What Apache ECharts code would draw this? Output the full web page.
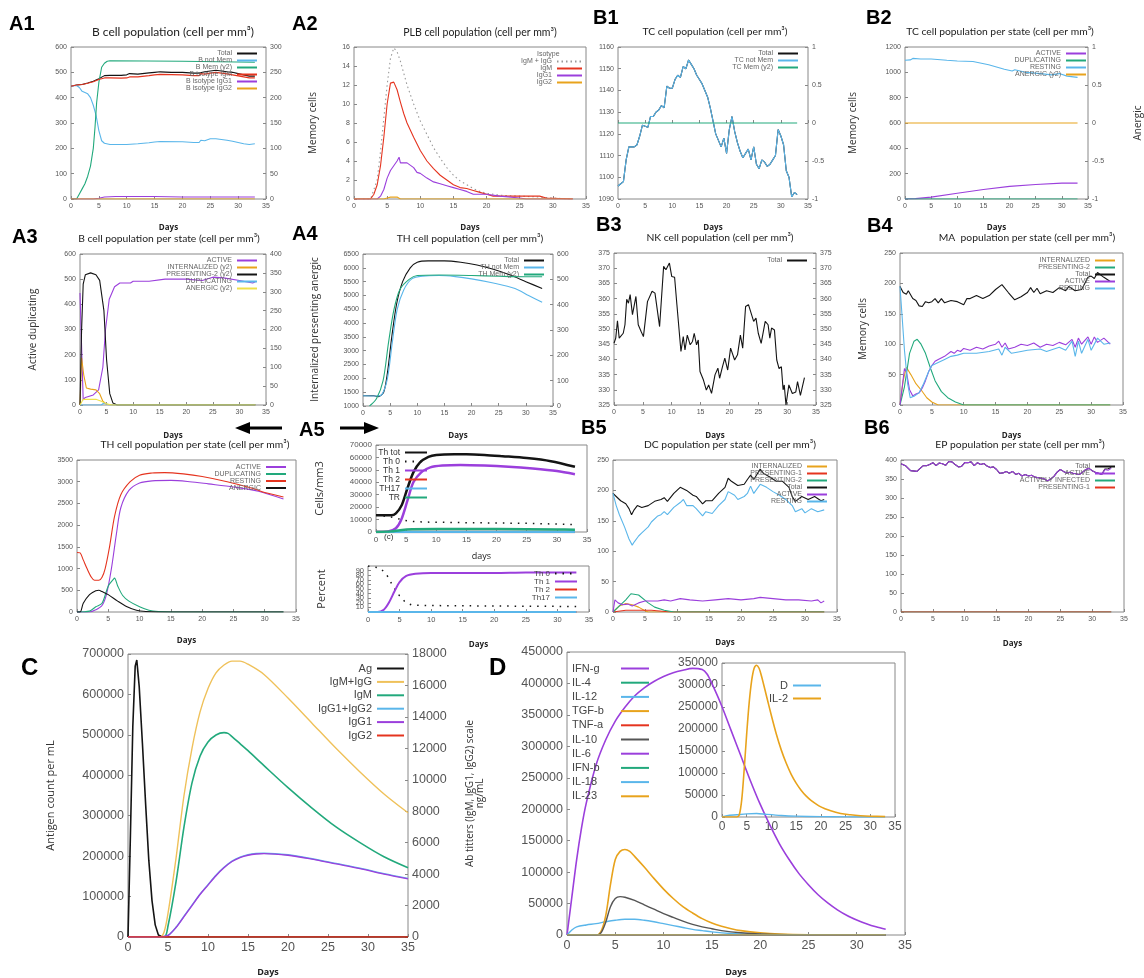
<!DOCTYPE html>
<html>
<head>
<meta charset="utf-8">
<script src="https://cdn.jsdelivr.net/npm/echarts@6/dist/echarts.min.js"></script>
<style>
  html, body { margin: 0; background: #fff; }
  #main { width: 1144px; height: 978px; }
</style>
</head>
<body>
<div id="main"></div>
<script>
// ---- data (day, value) ----
// A1 B cell population
var a1Total = [[0,445],[1,450],[2,452],[3,458],[4,465],[5,475],[6,487],[7,488],[9,488],[10,490],[10.5,495],[12,493],[14,498],[15,500],[16,502],[18,500],[20,500],[22,497],[23,497],[23.3,503],[24,502],[25,505],[26,508],[27,505],[28,502],[29,500],[30,495],[31,490],[32,485],[33,485]];
var a1NotMem = [[0,445],[1,448],[1.5,440],[2,425],[3,415],[3.5,400],[4,370],[4.5,330],[5,270],[5.5,230],[6,220],[7,215],[10,215],[10.3,220],[12,218],[14,222],[15,225],[16,227],[20,226],[22,223],[23,223],[23.3,232],[24,230],[25,238],[26,238],[27,235],[28,232],[29,228],[30,223],[31,218],[32,215],[33,218]];
var a1Mem = [[0,0],[1,0],[1.2,2],[1.5,10],[2,20],[2.5,30],[3,45],[3.5,65],[4,100],[4.3,140],[4.6,190],[5,230],[5.5,260],[6,268],[6.5,272],[7,273],[20,272],[33,270]];
var a1IgM = [[0,445],[1,450],[2,452],[3,457],[4,463],[5,472],[6,478],[7,478],[9,477],[10,478],[10.5,482],[12,482],[14,487],[15,490],[16,492],[20,490],[22,487],[23,487],[23.3,495],[24,493],[25,497],[26,500],[27,497],[28,494],[29,490],[30,486],[31,482],[32,478],[33,478]];
var a1IgG1 = [[0,0],[4,0],[5,3],[6,8],[8,10],[15,10],[20,8],[33,8]];
var a1IgG2 = [[0,0],[33,0]];
// A2 PLB cell population
var a2IgMG = [[0,0],[2.5,0],[3.5,2],[4,5],[4.5,8.5],[5,12],[5.5,14.8],[6,15.9],[6.5,15.5],[7,14.5],[8,12],[9,10],[10,8.2],[11,6.8],[12,5.4],[13,4.3],[14,3.3],[15,2.5],[16,1.9],[17,1.5],[18,1.1],[19,0.8],[20,0.6],[22,0.4],[25,0.3],[28,0.2],[30,0.1],[33,0]];
var a2IgM = [[0,0],[2.5,0],[3,0.5],[3.5,1.5],[4,3.5],[4.5,6.5],[5,10],[5.5,12.2],[6,12.3],[6.5,11.5],[7,10.2],[7.5,9],[8,8],[9,6.5],[10,5.1],[11,4],[12,3.2],[13,2.5],[14,2],[15,1.5],[16,1.2],[17,1.1],[18,0.9],[19,0.7],[20,0.5],[21,0.3],[28,0.3],[29,0.1],[33,0]];
var a2IgG1 = [[0,0],[3.5,0],[4,0.3],[4.5,1],[5,2.2],[5.5,3],[6,3.5],[6.5,4],[6.8,4.4],[7,3.8],[8,3.8],[9,3.3],[9.5,2.8],[10,2.7],[11,2.2],[12,1.8],[13,1.6],[14,1.4],[15,1.2],[16,1],[17,0.8],[18,0.5],[20,0.5],[22,0.3],[25,0.1],[26,0],[33,0]];
var a2IgG2 = [[0,0],[4.5,0],[5,0.1],[5.5,0.2],[6.5,0.2],[7,0],[33,0]];
// B1 TC cell population
var b1NotMem = [[0,1096],[0.5,1097],[1,1098],[1.5,1108],[2,1114],[3,1114],[3.5,1115],[4,1119],[4.5,1124],[5.5,1123],[6,1128],[6.5,1128],[7,1130],[7.5,1131],[8,1133],[8.5,1132],[9,1142],[9.5,1141],[10,1141],[10.5,1145],[11,1147],[11.5,1146],[12,1151],[12.5,1150],[13,1154],[13.5,1152],[14,1150],[14.5,1147],[15,1145],[15.5,1143],[16,1140],[16.5,1137],[17,1132],[17.5,1126],[18,1120],[18.5,1117],[19,1114],[19.5,1118],[20,1111],[20.5,1122],[21,1128],[21.5,1121],[22,1116],[22.5,1112],[23,1109],[23.5,1111],[24,1113],[24.5,1108],[25,1114],[25.5,1106],[26,1104],[26.5,1108],[27,1107],[27.5,1105],[28,1106],[28.5,1108],[29,1110],[29.5,1122],[30,1119],[30.5,1115],[31,1103],[31.5,1100],[32,1091],[32.5,1093],[33,1092]];
var b1Mem = [[0,0],[33,0]];
// B2 TC cell population per state
var b2Resting = [[0,1095],[1,1098],[1.5,1110],[3,1105],[5,1105],[8,1095],[10,1090],[13,1085],[16,1060],[19,1025],[20.5,1010],[21,1020],[23,1000],[26,990],[28,980],[29.5,990],[31,970],[33,960]];
var b2Active = [[0,0],[2,3],[5,15],[10,45],[15,75],[20,100],[25,115],[30,125],[33,125]];
var b2Dup = [[0,0],[33,0]];
var b2Anergic = [[0,0],[33,0]];
// A3 B cell population per state
var a3Active = [[0,445],[0.3,445],[0.6,20],[1,30],[2.5,40],[3.5,60],[4.3,150],[4.8,300],[5.5,420],[6.5,470],[7.5,485],[9.5,485],[10,492],[13,492],[16,500],[20,500],[23,495],[25,508],[27,505],[30,495],[32.5,485],[33,490]];
var a3Intern = [[0,0],[0.3,125],[0.7,80],[1.2,45],[2,42],[3,40],[3.7,30],[4.3,10],[5,2],[6,0],[33,0]];
var a3Present = [[0,0],[0.3,200],[0.6,320],[1,345],[2,350],[3,345],[3.7,330],[4.5,250],[5,120],[5.6,30],[6.2,5],[7,0],[33,0]];
var a3Dup = [[0,0],[4,0],[4.5,8],[5.5,0],[33,0]];
var a3Anergic = [[0,0],[0.6,15],[3,15],[4,10],[5,3],[6,0],[33,0]];
// A4 TH cell population
var a4Total = [[0,1370],[2,1370],[2.8,1340],[3.8,1500],[4.5,2200],[5.3,3500],[6.2,4700],[7.3,5500],[8.7,6000],[10,6200],[12,6250],[15,6250],[18,6200],[21,6100],[24,5950],[27,5750],[30,5500],[33,5250]];
var a4NotMem = [[0,1370],[2.5,1360],[3.5,1420],[4.5,2000],[5.4,3300],[6.3,4500],[7.5,5200],[9,5600],[11,5700],[14,5720],[17,5680],[20,5600],[24,5450],[28,5250],[30.5,5000],[33,4750]];
var a4Mem = [[1.2,0],[2.5,30],[3.7,100],[4.7,250],[5.7,380],[6.8,460],[8.5,500],[10,515],[14,517],[20,515],[25,512],[30,510],[33,510]];
// B3 NK cell population
var b3Total = [[0,345.3],[0.3,347],[0.6,352.7],[0.9,347],[1.6,348.6],[1.9,351.4],[2.2,359.8],[2.5,358.5],[2.8,361.3],[3.2,354.7],[3.8,360.7],[4.2,351.4],[4.7,349.2],[5.1,347.5],[5.8,359],[6.6,362.4],[7.1,361.8],[7.9,350.8],[8.6,370.6],[9,369.5],[9.6,371.7],[10,367.3],[10.5,367],[10.9,358],[11.6,342.6],[12,347.5],[12.3,343.1],[12.7,348],[13.2,344.8],[13.6,345.9],[13.9,348.6],[14.3,344.8],[14.6,346.4],[14.9,336],[15.5,333.2],[16,329.9],[16.4,331.6],[16.9,328.8],[17.5,334.9],[18,337.1],[18.3,333.8],[18.8,337.6],[19.2,340.4],[19.7,336.5],[20.2,343.7],[20.9,339.8],[21.4,341.5],[21.9,348],[22.3,343.7],[22.8,357.4],[23.3,358],[24.2,352.5],[24.6,353.6],[25,348.6],[25.5,345.3],[26.2,352.5],[26.7,351.4],[27,347],[27.3,350.3],[27.8,349.7],[28.2,339.8],[28.6,337],[29,337.6],[29.3,330],[29.5,331.6],[29.8,325],[30.3,331.6],[30.9,328.8],[31.5,329.3],[31.8,332.7],[32.3,328.2],[33,334]];
// B4 MA population per state
var b4Intern = [[0,0],[0.5,40],[1,62],[1.7,50],[2.5,35],[3.3,25],[4.2,12],[5,5],[6,0],[33,0]];
var b4Present = [[0,0],[0.7,30],[1.5,85],[2.2,105],[2.7,108],[3.3,100],[4,85],[4.8,60],[5.5,40],[6.5,22],[7.5,12],[8.7,5],[10,0],[33,0]];
var b4Total = [[0,195],[0.5,185],[1,182],[1.3,188],[2,175],[2.5,172],[3,163],[3.5,162],[4,170],[4.5,168],[5,170],[5.5,175],[6,168],[6.5,175],[7,168],[8,172],[9,170],[10,165],[10.5,175],[11,175],[12,180],[13,175],[14,180],[15,190],[16,198],[17,185],[18,173],[19,178],[20,185],[20.5,193],[21,185],[21.5,192],[22,183],[23,188],[24,185],[25,193],[26,188],[26.5,195],[27.5,188],[28.5,190],[29,200],[29.5,210],[30,212],[30.5,208],[31,218],[32,210],[33,203]];
var b4Active = [[0,0],[0.7,60],[1,55],[1.5,25],[2,15],[2.5,18],[3,20],[3.5,28],[4,40],[4.5,55],[5,65],[5.5,72],[6,75],[7,80],[8,88],[8.5,85],[9,90],[9.5,88],[10,93],[11,90],[12,95],[13,92],[14,97],[15,100],[15.5,105],[16,95],[16.5,102],[17,92],[18,95],[19,100],[20,98],[21,102],[22,95],[23,100],[24,98],[25,103],[26,99],[27,108],[27.5,95],[28,110],[28.5,100],[29.5,112],[30,100],[30.5,112],[31,103],[32,110],[33,100]];
var b4Resting = [[0,195],[0.3,150],[0.7,90],[1.2,35],[1.6,12],[2.3,15],[3,20],[3.7,35],[4.5,55],[5,65],[6,70],[7,75],[8,80],[9,82],[10,85],[12,85],[14,88],[15.5,92],[16,82],[16.5,95],[17.5,85],[19,88],[20,90],[22,92],[23,88],[25,95],[26,90],[27,105],[27.5,80],[28,105],[28.5,85],[29.5,108],[30,90],[31,110],[32,100],[33,102]];
// TH cell population per state
var thActive = [[0,0],[2,0],[3,50],[4,150],[4.7,400],[5.5,1000],[6.3,1800],[7,2400],[8.3,2800],[10,2970],[12,3020],[15,3030],[18,3000],[21,2950],[25,2880],[29,2780],[33,2600]];
var thDup = [[0,0],[2,20],[3,120],[4,200],[5,600],[5.8,750],[6,780],[6.5,600],[7.3,380],[8.3,250],[10,120],[11.5,40],[13,10],[15,0],[33,0]];
var thResting = [[0,1370],[0.5,1360],[1,1200],[1.6,1000],[2.3,800],[2.8,730],[3.5,730],[4,800],[4.5,1000],[5.2,1500],[6,2200],[7,2700],[8.5,3000],[10,3150],[12,3200],[14,3210],[17,3180],[20,3120],[24,3000],[28,2850],[30,2750],[33,2650]];
var thAnergic = [[0,0],[0.5,0],[1,200],[2,400],[3,490],[3.5,500],[4,470],[5,400],[6.5,250],[8,120],[9.5,40],[11,10],[13,0],[33,0]];
// A5 Th subsets
var a5Tot = [[0,13500],[2.5,13500],[3.3,15000],[4.3,22000],[5.2,35000],[6.2,48000],[7.3,56000],[8.7,60500],[10,62000],[13,62500],[15,62500],[18,62000],[21,61000],[25,59500],[29,57000],[33,52500]];
var a5Th0 = [[0,13500],[2,12500],[3.5,11000],[4.5,9500],[6,8500],[8,8000],[15,7500],[25,7000],[33,6000]];
var a5Th1 = [[0,0],[2,500],[3.3,3000],[4.2,10000],[5.2,25000],[6.2,40000],[7.5,48000],[9,52000],[11,53500],[14,54000],[18,53500],[22,52500],[26,51000],[30,49000],[33,46500]];
var a5Th2 = [[0,0],[33,0]];
var a5Th17 = [[0,0],[33,0]];
var a5TR = [[0,0],[2.5,500],[4,1500],[6,2200],[10,2500],[20,2400],[30,2000],[33,1800]];
var a5PctTh0 = [[0,100],[2,95],[3,80],[4,55],[5,35],[6,20],[7,15],[10,14],[20,13],[33,12]];
var a5PctTh1 = [[0,0],[1.5,0],[2.5,5],[3.3,20],[4.2,45],[5,65],[6,78],[7.5,83],[10,85],[20,85],[25,86],[33,86]];
var a5PctTh2 = [[0,0],[33,0]];
var a5PctTh17 = [[0,0],[33,0]];
// B5 DC population per state
var b5Intern = [[0,0],[1,10],[2,14],[3,12],[4,8],[5,2],[5.5,0],[33,0]];
var b5Pres1 = [[0,0],[2,3],[6,3],[9,0],[33,0]];
var b5Pres2 = [[0,0],[1,10],[2,20],[2.8,30],[4,28],[5.5,15],[6.5,8],[8,3],[9.5,0],[33,0]];
var b5Total = [[0,195],[0.5,190],[1.2,183],[2,178],[2.5,170],[2.9,160],[3.3,168],[3.8,175],[4.5,172],[5.5,175],[6.5,182],[7.5,185],[8,188],[8.5,182],[9.5,195],[10.5,205],[11.5,200],[12.5,192],[13,190],[14,178],[14.5,183],[15.5,183],[16.5,195],[17.5,205],[18,220],[18.5,215],[19.5,208],[20.5,210],[21,218],[21.5,225],[22,218],[23,235],[23.5,228],[24.5,222],[25.5,215],[26.5,215],[27.5,205],[28,190],[28.5,182],[29.5,190],[30.5,185],[31.5,190],[32.5,183],[33,185]];
var b5Active = [[0,0],[0.3,20],[0.8,15],[1.5,12],[2.3,13],[3,10],[4,15],[5,18],[7,18],[8,20],[9,18],[10.5,22],[12,20],[14,18],[16,20],[18,22],[20,20],[22,22],[23,24],[25,22],[27,20],[29,20],[31,18],[32,20],[32.5,15],[33,18]];
var b5Resting = [[0,195],[0.5,175],[1,160],[1.8,140],[2.5,120],[3,110],[3.3,115],[4,125],[4.5,130],[5.5,140],[6,148],[7,158],[7.5,160],[8,165],[8.5,160],[9.5,172],[10.5,180],[11,185],[11.5,175],[12.5,175],[13,170],[14,158],[14.5,165],[15.5,162],[16.5,175],[17.5,185],[18,198],[19,192],[19.5,185],[20.5,190],[21,195],[21.5,207],[22,195],[23,210],[24,205],[25,198],[26,192],[27,185],[28,175],[28.5,165],[29.5,170],[30,163],[31,170],[32,165],[33,168]];
// B6 EP population per state
var b6Active = [[0,390],[0.7,385],[1,380],[1.5,372],[2.5,370],[3,378],[3.5,385],[4,385],[4.5,388],[5,393],[5.5,385],[6,392],[6.5,390],[7,386],[7.5,396],[8,395],[8.5,388],[9,382],[9.5,383],[10,393],[10.5,393],[11,395],[11.5,385],[12,393],[12.5,388],[13,391],[13.5,384],[14,380],[14.5,382],[15,375],[15.5,365],[16,366],[16.5,370],[17,365],[17.5,370],[18,362],[18.5,365],[19,358],[19.5,362],[20,358],[20.5,360],[21,355],[22,352],[22.5,350],[23,345],[23.5,350],[24,357],[24.5,368],[25,375],[25.5,370],[26,366],[26.5,368],[27,365],[28,362],[28.5,368],[29,375],[29.5,378],[30,372],[30.5,368],[31,365],[31.5,362],[32,375],[32.5,373],[33,378]];
var b6Total = b6Active.slice(0, -3).concat([[32,376],[32.5,377],[33,380]]);
var b6Infected = [[0,0],[33,0]];
var b6Pres1 = [[0,0],[33,0]];
// C antigen and antibodies
var cAg = [[0,0],[0.3,250000],[0.6,520000],[0.9,670000],[1.1,685000],[1.4,620000],[1.8,480000],[2.2,330000],[2.6,190000],[3,90000],[3.4,30000],[3.8,5000],[4.3,0],[35,0]];
var cIgMG = [[0,0],[4,0],[4.5,300],[5,1500],[6,5000],[7,9000],[8,12000],[9,14300],[10,15800],[11,16800],[12,17300],[13,17550],[14,17550],[15,17350],[17,16700],[20,15200],[23,13600],[26,12000],[29,10500],[32,9100],[35,7900]];
var cIgM = [[0,0],[4.5,0],[5,700],[6,3500],[7,7000],[8,9800],[9,11500],[10,12400],[11,12850],[12,13000],[12.5,12950],[13,12750],[14,12300],[15,11850],[17,10900],[20,9500],[23,8200],[26,7000],[29,6000],[32,5100],[35,4400]];
var cIgG12 = [[0,0],[4,0],[5,100],[6,620],[7,1330],[8,2030],[9,2730],[10,3330],[11,3930],[12,4430],[13,4830],[14,5080],[15,5230],[16,5310],[17,5330],[20,5230],[23,4980],[26,4680],[29,4380],[32,4030],[35,3730]];
var cIgG1 = [[0,0],[4,0],[5,100],[6,600],[7,1300],[8,2000],[9,2700],[10,3300],[11,3900],[12,4400],[13,4800],[14,5050],[15,5200],[16,5280],[17,5300],[20,5200],[23,4950],[26,4650],[29,4350],[32,4000],[35,3700]];
var cIgG2 = [[0,0],[35,0]];
// D cytokines
var dIFNg = [[0,0],[0.5,60000],[1,120000],[1.5,170000],[2,210000],[3,270000],[4,310000],[5,340000],[6,362000],[7,380000],[8,393000],[9,403000],[10,411000],[11,417000],[12,421000],[13,424000],[14,422000],[14.5,415000],[15,400000],[16,365000],[17,325000],[18,285000],[19,245000],[20,208000],[21,175000],[22,145000],[23,120000],[24,98000],[25,80000],[26,64000],[27,51000],[28,40000],[29,31000],[30,24000],[31,18000],[32,13000],[33,9000]];
var dIL4 = [[0,0],[33,0]];
var dIL12 = [[0,0],[0.5,8000],[1,13000],[2,16000],[3,18000],[4,21000],[5,23500],[6,25000],[7,25000],[8,23500],[9,21000],[10,18000],[11,15000],[12,12000],[13,9000],[14,7000],[15,5000],[17,2500],[19,1200],[22,400],[33,0]];
var dTGFb = [[0,0],[3,0],[3.5,5000],[4,30000],[4.5,80000],[5,120000],[5.5,133000],[6,136000],[6.5,133000],[7,125000],[8,108000],[9,90000],[10,73000],[11,58000],[12,45000],[13,35000],[14,26000],[15,19000],[16,14000],[17,10000],[18,7000],[20,3500],[22,1500],[25,500],[33,0]];
var dTNFa = [[0,0],[33,0]];
var dIL10 = [[0,0],[3,0],[3.5,3000],[4,20000],[4.5,45000],[5,58000],[5.5,61000],[6,60000],[7,55000],[8,48000],[9,41000],[10,34000],[11,28000],[12,22000],[13,17000],[14,13000],[15,10000],[16,7000],[18,3500],[20,1500],[23,500],[33,0]];
var dIL6 = [[0,0],[33,0]];
var dIFNb = [[0,0],[33,0]];
var dIL18 = [[0,0],[33,0]];
var dIL23 = [[0,0],[33,0]];
var dIL2 = [[0,0],[3,0],[3.5,5000],[4,40000],[4.5,110000],[5,190000],[5.5,260000],[6,310000],[6.5,338000],[7,345000],[7.5,338000],[8,320000],[9,275000],[10,230000],[11,188000],[12,152000],[13,122000],[14,97000],[15,77000],[16,61000],[17,48000],[18,38000],[20,23000],[22,14000],[24,8000],[26,5000],[28,3000],[30,1800],[33,800]];
var dD = [[0,0],[1,3000],[3,5000],[5,7000],[7,8000],[9,6000],[12,3500],[15,2000],[20,800],[25,300],[33,0]];

var PURPLE = '#9b3fdc', GREEN = '#22a97c', LBLUE = '#5ab6ea', ORANGE = '#e8a31c',
    YELLOW = '#eee04a', RED = '#e5341f', BLACK = '#141414', GRAY = '#999';
var FONT = 'Liberation Sans';

var grids = [], xAxes = [], yAxes = [], series = [], titles = [], legends = [];

function axisBase(fs) {
  return {
    axisLine: { show: false },
    axisTick: { inside: true, length: 3, lineStyle: { color: '#888' } },
    axisLabel: { fontSize: fs, color: '#555', margin: 4, fontFamily: FONT,
      formatter: function (v) { return String(v); } },
    splitLine: { show: false }
  };
}

function panel(p) {
  var fs = p.fs || 7;
  var gi = grids.length;
  grids.push({ left: p.l, top: p.t, width: p.w, height: p.h, show: true,
    borderColor: '#888', borderWidth: 1, backgroundColor: 'rgba(0,0,0,0)' });
  xAxes.push(Object.assign(axisBase(fs), {
    type: 'value', gridIndex: gi, min: 0, max: 35, interval: 5,
    name: p.xName === undefined ? 'Days' : p.xName, nameLocation: 'middle', nameGap: p.xGap || 25,
    nameTextStyle: { fontSize: p.xfs || 8, fontWeight: p.xBold === false ? 'normal' : 'bold', color: '#222', fontFamily: 'Open Sans' }
  }));
  var yi = yAxes.length;
  yAxes.push(Object.assign(axisBase(fs), {
    type: 'value', gridIndex: gi, min: p.yMin || 0, max: p.yMax, interval: p.yInt,
    name: p.yName || '', nameLocation: 'middle', nameGap: p.yGap || 40,
    nameTextStyle: { fontSize: p.nfs || 10, color: '#333', fontFamily: 'Open Sans' }
  }));
  var y2 = null;
  if (p.y2) {
    y2 = yAxes.length;
    yAxes.push(Object.assign(axisBase(fs), {
      type: 'value', gridIndex: gi, position: 'right', min: p.y2[0], max: p.y2[1], interval: p.y2[2],
      name: p.y2Name || '', nameLocation: 'middle', nameGap: p.y2Gap || 40,
      nameTextStyle: { fontSize: p.nfs || 10, color: '#333', fontFamily: 'Open Sans' }
    }));
  }
  if (p.title) {
    var tfs = p.tfs || 10.3;
    titles.push({ text: p.title, left: p.tx, top: p.t - 20 - tfs / 2, textAlign: 'center',
      textStyle: { fontSize: tfs, fontWeight: 'normal', color: '#222', fontFamily: 'Lato' } });
  }
  return { x: gi, y: yi, y2: y2, names: [] };
}

function line(P, name, data, color, o) {
  o = o || {};
  var nm = name + '#' + series.length;
  series.push({
    type: 'line', name: nm, xAxisIndex: P.x, yAxisIndex: o.y2 ? P.y2 : P.y, data: data,
    symbol: 'none', silent: true, animation: false, smooth: o.smooth || false,
    lineStyle: { color: color, width: o.w || 1.1, type: o.type || 'solid' },
    itemStyle: { color: color }, z: o.z || 2
  });
  if (!o.noLegend) P.names.push(nm);
}

function legend(P, right, top, o) {
  o = o || {};
  var lg = {
    orient: 'vertical', right: right, top: top, align: 'right', padding: 0,
    itemWidth: o.iw || 20, itemHeight: o.ih || 8, itemGap: o.gap === undefined ? 0 : o.gap,
    itemStyle: { opacity: 0 },
    selectedMode: false, data: P.names,
    textStyle: { fontSize: o.fs || 7, color: o.color || '#666', fontFamily: FONT },
    formatter: function (n) { return n.split('#')[0]; }
  };
  if (o.leftText) {
    lg.formatter = function (n) { return '{a|' + n.split('#')[0] + '}'; };
    lg.textStyle.rich = { a: { width: o.leftText, align: 'left', fontSize: o.fs, color: o.color || '#444', fontFamily: FONT } };
  }
  legends.push(lg);
}

// A1
var A1 = panel({ l: 71, t: 47, w: 195, h: 152, yMax: 600, yInt: 100, y2: [0, 300, 50],
  y2Name: 'Memory cells', y2Gap: 42, title: 'B cell population (cell per mm³)', tx: 168, tfs: 12 });
line(A1, 'Total', a1Total, BLACK);
line(A1, 'B not Mem', a1NotMem, LBLUE);
line(A1, 'B Mem (y2)', a1Mem, GREEN, { y2: true });
line(A1, 'B isotype IgM', a1IgM, RED);
line(A1, 'B isotype IgG1', a1IgG1, PURPLE);
line(A1, 'B isotype IgG2', a1IgG2, ORANGE);
legend(A1, 886, 50);

// A2
var A2 = panel({ l: 354, t: 47, w: 232, h: 152, yMax: 16, yInt: 2,
  title: 'PLB cell population (cell per mm³)', tx: 475, tfs: 10.5 });
line(A2, 'IgM + IgG', a2IgMG, GRAY, { type: [1.5, 3] });
line(A2, 'IgM', a2IgM, RED);
line(A2, 'IgG1', a2IgG1, PURPLE);
line(A2, 'IgG2', a2IgG2, ORANGE);
legend(A2, 561, 58, { iw: 25 });

// B1
var B1 = panel({ l: 618, t: 47, w: 190, h: 152, yMin: 1090, yMax: 1160, yInt: 10, y2: [-1, 1, 0.5],
  y2Name: 'Memory cells', y2Gap: 40, title: 'TC cell population (cell per mm³)', tx: 710 });
line(B1, 'Total', b1NotMem, BLACK);
line(B1, 'TC not Mem', b1NotMem, LBLUE);
line(B1, 'TC Mem (y2)', b1Mem, GREEN, { y2: true });
legend(B1, 345, 50);

// B2
var B2 = panel({ l: 905, t: 47, w: 190, h: 152, yMax: 1200, yInt: 200, y2: [-1, 1, 0.5],
  y2Name: 'Anergic', y2Gap: 45, title: 'TC cell population per state (cell per mm³)', tx: 995 });
line(B2, 'ACTIVE', b2Active, PURPLE);
line(B2, 'DUPLICATING', b2Dup, GREEN);
line(B2, 'RESTING', b2Resting, LBLUE);
line(B2, 'ANERGIC (y2)', b2Anergic, ORANGE, { y2: true });
legend(B2, 57, 50);

// A3
var A3 = panel({ l: 80, t: 254, w: 186, h: 151, yMax: 600, yInt: 100, yName: 'Active duplicating', yGap: 42,
  y2: [0, 400, 50], y2Name: 'Internalized presenting anergic', y2Gap: 44,
  title: 'B cell population per state (cell per mm³)', tx: 164, xGap: 27 });
line(A3, 'ACTIVE', a3Active, PURPLE);
line(A3, 'INTERNALIZED (y2)', a3Intern, ORANGE, { y2: true });
line(A3, 'PRESENTING-2 (y2)', a3Present, BLACK, { y2: true });
line(A3, 'DUPLICATING', a3Dup, LBLUE);
line(A3, 'ANERGIC (y2)', a3Anergic, YELLOW, { y2: true });
legend(A3, 886, 257);

// A4
var A4 = panel({ l: 363, t: 254, w: 190, h: 152, yMin: 1000, yMax: 6500, yInt: 500, y2: [0, 600, 100],
  title: 'TH cell population (cell per mm³)', tx: 465, xGap: 26 });
line(A4, 'Total', a4Total, BLACK, { smooth: 0.3 });
line(A4, 'TH not Mem', a4NotMem, LBLUE, { smooth: 0.3 });
line(A4, 'TH Mem (y2)', a4Mem, GREEN, { y2: true, smooth: 0.3 });
legend(A4, 599, 257);

// B3
var B3 = panel({ l: 614, t: 253, w: 202, h: 152, yMin: 325, yMax: 375, yInt: 5, y2: [325, 375, 5],
  y2Name: 'Memory cells', y2Gap: 42, title: 'NK cell population (cell per mm³)', tx: 715, xGap: 27 });
line(B3, 'Total', b3Total, BLACK);
legend(B3, 336, 257);

// B4
var B4 = panel({ l: 900, t: 253, w: 223, h: 152, yMax: 250, yInt: 50,
  title: 'MA  population per state (cell per mm³)', tx: 1022, xGap: 27 });
line(B4, 'INTERNALIZED', b4Intern, ORANGE);
line(B4, 'PRESENTING-2', b4Present, GREEN);
line(B4, 'Total', b4Total, BLACK);
line(B4, 'ACTIVE', b4Active, PURPLE);
line(B4, 'RESTING', b4Resting, LBLUE);
legend(B4, 28, 257);

// TH per state
var TS = panel({ l: 77, t: 460, w: 219, h: 152, yMax: 3500, yInt: 500,
  title: 'TH cell population per state (cell per mm³)', tx: 190, xGap: 25 });
line(TS, 'ACTIVE', thActive, PURPLE, { smooth: 0.3 });
line(TS, 'DUPLICATING', thDup, GREEN, { smooth: 0.3 });
line(TS, 'RESTING', thResting, RED, { smooth: 0.3 });
line(TS, 'ANERGIC', thAnergic, BLACK, { smooth: 0.3 });
legend(TS, 857, 463.5);

// A5 top
var A5 = panel({ l: 376, t: 445, w: 211, h: 87, yMax: 70000, yInt: 10000, yName: 'Cells/mm3', yGap: 51,
  nfs: 11, xName: 'days', xBold: false, xfs: 9, xGap: 20, fs: 8 });
line(A5, 'Th tot', a5Tot, BLACK, { w: 2.5, smooth: 0.3 });
line(A5, 'Th 0', a5Th0, BLACK, { w: 1.5, type: [1.5, 6] });
line(A5, 'Th 1', a5Th1, PURPLE, { w: 2.5, smooth: 0.3 });
line(A5, 'Th 2', a5Th2, RED, { w: 2.5 });
line(A5, 'TH17', a5Th17, LBLUE, { w: 2.5 });
line(A5, 'TR', a5TR, GREEN, { w: 2.5, smooth: 0.3 });
legend(A5, 716, 448, { iw: 22, fs: 8.5, color: '#333' });

// A5 bottom
var A5b = panel({ l: 368, t: 566, w: 221, h: 46, yMax: 100, yInt: 10, yName: 'Percent', yGap: 41,
  nfs: 11, xGap: 29, fs: 7.5 });
line(A5b, 'Th 0', a5PctTh0, BLACK, { w: 1.5, type: [1.5, 6] });
line(A5b, 'Th 1', a5PctTh1, PURPLE, { w: 2, smooth: 0.3 });
line(A5b, 'Th 2', a5PctTh2, RED, { w: 2 });
line(A5b, 'Th17', a5PctTh17, LBLUE, { w: 2 });
legend(A5b, 566, 569.5, { iw: 22, fs: 8, color: '#444' });

// B5
var B5 = panel({ l: 613, t: 460, w: 224, h: 152, yMax: 250, yInt: 50,
  title: 'DC population per state (cell per mm³)', tx: 725, xGap: 27 });
line(B5, 'INTERNALIZED', b5Intern, ORANGE);
line(B5, 'PRESENTING-1', b5Pres1, RED);
line(B5, 'PRESENTING-2', b5Pres2, GREEN);
line(B5, 'Total', b5Total, BLACK);
line(B5, 'ACTIVE', b5Active, PURPLE);
line(B5, 'RESTING', b5Resting, LBLUE);
legend(B5, 316, 463);

// B6
var B6 = panel({ l: 901, t: 460, w: 223, h: 152, yMax: 400, yInt: 50,
  title: 'EP population per state (cell per mm³)', tx: 1015, xGap: 28 });
line(B6, 'Total', b6Total, BLACK);
line(B6, 'ACTIVE', b6Active, PURPLE);
line(B6, 'ACTIVELY INFECTED', b6Infected, GREEN);
line(B6, 'PRESENTING-1', b6Pres1, RED);
legend(B6, 28, 463);

// C
var C = panel({ l: 128, t: 654, w: 280, h: 286, yMax: 700000, yInt: 100000, y2: [0, 18000, 2000],
  yName: 'Antigen count per mL', yGap: 72, fs: 12.5, nfs: 11, xfs: 9, xGap: 31 });
line(C, 'Ag', cAg, BLACK, { w: 1.6 });
line(C, 'IgM+IgG', cIgMG, '#efc15a', { y2: true, w: 1.4, smooth: 0.3 });
line(C, 'IgM', cIgM, GREEN, { y2: true, w: 1.6, smooth: 0.3 });
line(C, 'IgG1+IgG2', cIgG12, LBLUE, { y2: true, w: 1.4, smooth: 0.3 });
line(C, 'IgG1', cIgG1, PURPLE, { y2: true, w: 1.4, smooth: 0.3 });
line(C, 'IgG2', cIgG2, RED, { y2: true, w: 1.4 });
legend(C, 739, 663, { iw: 27, ih: 12, gap: 2.4, fs: 11, color: '#444' });

// D
var D = panel({ l: 567, t: 652, w: 338, h: 283, yMax: 450000, yInt: 50000,
  yName: 'Ab titters (IgM, IgG1, IgG2) scale\nng/mL', yGap: 82, fs: 12.5, nfs: 10, xfs: 9, xGap: 33 });
line(D, 'IFN-g', dIFNg, PURPLE, { w: 1.6, smooth: 0.3 });
line(D, 'IL-4', dIL4, GREEN, { w: 1.4 });
line(D, 'IL-12', dIL12, LBLUE, { w: 1.4, smooth: 0.3 });
line(D, 'TGF-b', dTGFb, ORANGE, { w: 1.6, smooth: 0.3 });
line(D, 'TNF-a', dTNFa, RED, { w: 1.4 });
line(D, 'IL-10', dIL10, '#555', { w: 1.4, smooth: 0.3 });
line(D, 'IL-6', dIL6, PURPLE, { w: 1.2 });
line(D, 'IFN-b', dIFNb, GREEN, { w: 1.2 });
line(D, 'IL-18', dIL18, LBLUE, { w: 1.2 });
line(D, 'IL-23', dIL23, ORANGE, { w: 1.2 });
legend(D, 494, 663, { iw: 28, ih: 11, gap: 3.2, fs: 11, color: '#444', leftText: 44 });

// D inset
var DI = panel({ l: 722, t: 663, w: 173, h: 154, yMax: 350000, yInt: 50000, xName: '', fs: 12 });
line(DI, 'D', dD, LBLUE, { w: 1.4, smooth: 0.3 });
line(DI, 'IL-2', dIL2, ORANGE, { w: 1.6, smooth: 0.3 });
legend(DI, 322, 680, { iw: 28, ih: 11, gap: 2, fs: 11, color: '#444' });

// panel letters, arrows, notes
function label(t, x, y, fs) {
  return { type: 'text', left: x, top: y, style: { text: t, fontSize: fs || 20, fontWeight: 'bold', fill: '#000', fontFamily: 'Liberation Sans' } };
}
var graphics = [
  label('A1', 9, 14), label('A2', 292, 14), label('B1', 593, 8), label('B2', 866, 8),
  label('A3', 12, 227), label('A4', 292, 224), label('B3', 596, 215), label('B4', 867, 216),
  label('A5', 299, 420), label('B5', 581, 418), label('B6', 864, 418),
  label('C', 21, 656, 24), label('D', 489, 656, 24),
  { type: 'polygon', shape: { points: [[235, 428], [250, 422], [250, 426.5], [282, 426.5], [282, 429.5], [250, 429.5], [250, 434]] }, style: { fill: '#000' } },
  { type: 'polygon', shape: { points: [[379, 428], [364, 422], [364, 426.5], [340, 426.5], [340, 429.5], [364, 429.5], [364, 434]] }, style: { fill: '#000' } },
  { type: 'text', left: 384, top: 533, style: { text: '(c)', fontSize: 8, fill: '#333', fontFamily: FONT } },
  { type: 'text', left: 537, top: 51, style: { text: 'Isotype', fontSize: 7, fill: '#666', fontFamily: FONT } }
];

var chart = echarts.init(document.getElementById('main'));
chart.setOption({
  animation: false,
  backgroundColor: '#fff',
  title: titles,
  legend: legends,
  grid: grids,
  xAxis: xAxes,
  yAxis: yAxes,
  series: series,
  graphic: graphics
});
</script>
</body>
</html>
